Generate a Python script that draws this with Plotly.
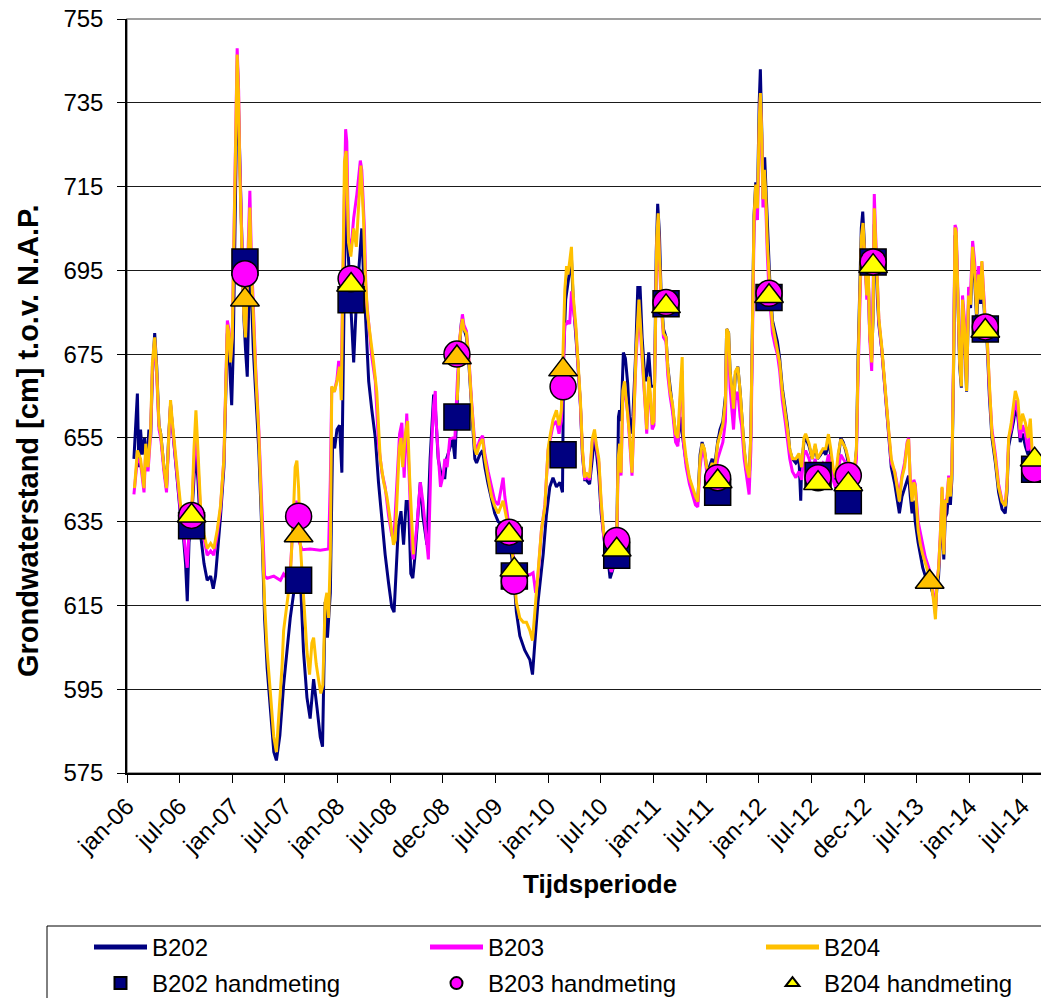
import plotly.graph_objects as go
import pandas as pd

START = pd.Timestamp("2006-01-01")

# readings: (days since 1 Jan 2006, grondwaterstand in cm t.o.v. NAP)
B202 = [
    (24, 650), (36, 665.6), (41, 648), (47, 657), (53, 651), (61, 655), (68, 648), (76, 657), (82, 655), (88, 670),
    (96, 680), (103, 672), (111, 658), (117, 656), (128, 648), (137, 643), (145, 656), (151, 663), (157, 658), (165, 652),
    (174, 645), (186, 636), (195, 632), (203, 625), (209, 616), (215, 630), (226, 638), (238, 652), (246, 645), (255, 632),
    (267, 625), (278, 621), (290, 622), (299, 619), (307, 622), (315, 628), (324, 636), (336, 648), (342, 665), (348, 680),
    (353, 676), (359, 668), (363, 662.8), (368, 675), (373, 700), (379, 725), (383, 744), (388, 730), (394, 712), (400, 696),
    (405, 684), (411, 676), (417, 669.6), (426, 700), (431, 690), (438, 676), (446, 666), (457, 652), (469, 630), (477, 612),
    (486, 600), (498, 590), (509, 580), (518, 578), (530, 584), (543, 596), (555, 604), (566, 612), (578, 618), (589, 624),
    (595, 621), (601, 621.5), (612, 604), (624, 593), (635, 588), (647, 597.4), (659, 590.5), (670, 583.6), (678, 581.3), (687, 615.8),
    (695, 607.3), (705, 618), (713, 655), (720, 652.5), (728, 657), (737, 658), (745, 646.7), (751, 684.5), (758, 715.5), (765, 701.7),
    (774, 689), (780, 680), (786, 673), (795, 687), (803, 694), (814, 705), (820, 694), (829, 682), (838, 668.5), (849, 661.6),
    (861, 655), (872, 644.4), (884, 635.2), (895, 627.2), (907, 620.3), (918, 614.6), (926, 613.4), (933, 624.4), (941, 634), (950, 637.5),
    (959, 629.5), (968, 639.8), (976, 639.8), (984, 622.6), (991, 621.5), (999, 627.2), (1007, 634), (1017, 644.4), (1026, 636.3), (1040, 629.5),
    (1051, 650), (1063, 665), (1067, 665), (1079, 650), (1091, 645.5), (1102, 645.5), (1108, 650), (1119, 652.4), (1129, 654.7), (1137, 650),
    (1143, 661.6), (1152, 676), (1160, 683), (1168, 681), (1177, 679), (1186, 672), (1194, 662), (1200, 655), (1206, 650), (1212, 649),
    (1223, 651), (1233, 652), (1241, 648), (1252, 644), (1264, 640), (1275, 637), (1287, 635), (1304, 634), (1316, 633), (1327, 630),
    (1339, 624), (1350, 613.5), (1362, 607.7), (1379, 604.3), (1397, 602), (1406, 598.5), (1414, 606), (1425, 615.8), (1443, 627.2), (1454, 636.4),
    (1466, 643.3), (1477, 645.5), (1489, 643.3), (1501, 644.4), (1510, 642), (1514, 675), (1521, 688), (1529, 692), (1535, 695), (1541, 698),
    (1547, 688), (1556, 680), (1564, 672), (1572, 663), (1579, 651), (1587, 645),
    (1592, 645), (1604, 644), (1613, 650), (1621, 655), (1627, 652), (1636, 646), (1644, 637), (1652, 632), (1661, 627), (1671, 624),
    (1675, 621.5), (1682, 623), (1690, 625), (1698, 630), (1704, 660), (1708, 661.6), (1713, 659), (1721, 675.4), (1728, 674), (1736, 668),
    (1745, 656), (1754, 660), (1763, 674), (1771, 690.9), (1779, 690.9), (1786, 679), (1794, 670.8), (1800, 668.5), (1809, 675.4), (1817, 667.3),
    (1829, 667.3), (1835, 699.4), (1840, 710.9), (1846, 704), (1852, 689), (1860, 681), (1869, 679), (1875, 672), (1883, 667), (1892, 663),
    (1902, 656), (1910, 654), (1918, 660), (1927, 655), (1939, 649), (1950, 645), (1959, 643), (1971, 640), (1979, 640), (1987, 651),
    (1994, 654), (2002, 652), (2010, 648), (2019, 648), (2029, 650), (2037, 648), (2048, 654), (2056, 657), (2066, 659), (2075, 665),
    (2079, 681), (2086, 680), (2091, 671), (2098, 666), (2103, 662), (2109, 670), (2118, 672), (2126, 666),
    (2131, 661), (2140, 652), (2148, 647), (2157, 644), (2163, 656), (2168, 686), (2174, 708), (2180, 716), (2186, 712), (2192, 735),
    (2196, 743), (2201, 728), (2205, 712), (2211, 722), (2217, 712), (2223, 700), (2229, 692), (2238, 683), (2247, 680), (2255, 678),
    (2263, 674), (2272, 667), (2282, 662), (2290, 658), (2298, 652), (2307, 650), (2319, 649), (2330, 650), (2336, 640), (2339, 648),
    (2347, 654), (2353, 655), (2365, 653), (2376, 650), (2386, 653), (2394, 650), (2405, 651), (2413, 652), (2423, 651), (2432, 654),
    (2440, 651), (2448, 647), (2457, 645), (2466, 650), (2475, 655), (2483, 654), (2492, 652), (2501, 649), (2509, 646), (2521, 646),
    (2529, 652), (2535, 675), (2540, 692), (2546, 705), (2551, 709), (2557, 702), (2565, 690), (2570, 694), (2575, 680), (2582, 674),
    (2587, 684), (2591, 706), (2596, 700), (2602, 688), (2607, 682), (2617, 676), (2625, 669), (2633, 663), (2642, 655), (2650, 648),
    (2662, 644), (2670, 640), (2678, 637), (2687, 641), (2696, 643), (2705, 645), (2710, 646), (2716, 641), (2722, 637), (2728, 640),
    (2733, 635), (2743, 630), (2751, 627), (2759, 624), (2768, 622), (2780, 621), (2789, 619), (2797, 617), (2803, 614), (2808, 619),
    (2814, 622), (2820, 629), (2826, 638), (2832, 626), (2837, 636), (2843, 637), (2849, 642), (2855, 639), (2860, 645), (2866, 672),
    (2871, 703), (2875, 703), (2881, 688), (2887, 672), (2893, 667), (2897, 687), (2904, 680), (2911, 666), (2918, 688), (2925, 686),
    (2932, 699), (2939, 693), (2946, 683), (2953, 692), (2960, 687), (2964, 694), (2970, 688), (2976, 681), (2982, 678), (2990, 665),
    (2999, 655), (3011, 649), (3022, 642), (3034, 638), (3045, 637), (3051, 642), (3057, 653), (3066, 656), (3074, 659), (3080, 662),
    (3089, 660), (3097, 654), (3105, 656), (3115, 653), (3124, 651), (3132, 654), (3138, 649), (3149, 647),
]

B203 = [
    (24, 641.5), (36, 650), (47, 649), (59, 642), (65, 652), (73, 647), (82, 656), (88, 672), (96, 678), (103, 670),
    (111, 657), (117, 655), (128, 647), (137, 642), (145, 655), (151, 663), (157, 658), (165, 652), (174, 645), (186, 637),
    (195, 633), (203, 628), (209, 624), (215, 633), (226, 640), (239, 658), (246, 650), (255, 637), (267, 631), (278, 627),
    (290, 628), (301, 627), (313, 632), (324, 638), (336, 650), (342, 668), (348, 683), (353, 681), (359, 674), (365, 680),
    (371, 703), (376, 727), (382, 748), (387, 738), (391, 721), (400, 698), (405, 686), (411, 680), (417, 696), (426, 714),
    (431, 699), (438, 684), (446, 672), (457, 657), (469, 635), (477, 622), (486, 621.5), (509, 622), (532, 621), (543, 622.5),
    (555, 621.5), (566, 623), (578, 637), (589, 640), (598, 630), (607, 628.3), (635, 628.5), (670, 628.2), (699, 628.5), (705, 645),
    (710, 667), (719, 666), (728, 669), (734, 673.4), (743, 670.8), (751, 707.5), (758, 728.7), (762, 725.8), (768, 702.9), (776, 699.4),
    (786, 707.5), (797, 713.2), (809, 721.2), (814, 719), (823, 705.2), (829, 689), (838, 682.2), (849, 674.3), (861, 668.5), (872, 653.6),
    (884, 646.7), (895, 643.3), (907, 636.4), (918, 631.8), (926, 631.8), (936, 645.5), (945, 655.9), (953, 658.6), (961, 645.5), (970, 660.8),
    (978, 645.5), (988, 628.3), (993, 626), (1005, 634), (1017, 644.4), (1026, 639.8), (1040, 629.5), (1045, 626), (1054, 650), (1063, 662.7),
    (1069, 666.2), (1071, 660), (1079, 651), (1087, 643.3), (1096, 646), (1102, 650), (1110, 648), (1119, 654.7), (1129, 655), (1137, 655),
    (1145, 668), (1154, 679), (1163, 684.5), (1168, 682), (1177, 680.5), (1186, 673.5), (1194, 664.5), (1200, 659), (1206, 653.5), (1212, 652),
    (1223, 654.5), (1233, 655.5), (1241, 651), (1252, 647), (1264, 643), (1275, 640), (1287, 639), (1298, 643), (1304, 645.5), (1310, 641),
    (1318, 637), (1330, 632), (1341, 626), (1350, 622.5), (1374, 622.6), (1397, 622.3), (1408, 622.8), (1417, 618), (1425, 622), (1437, 633),
    (1449, 639), (1460, 652), (1468, 655), (1477, 658), (1489, 659), (1498, 656), (1506, 659), (1512, 672), (1518, 682), (1524, 682.2),
    (1529, 683), (1535, 682.2), (1541, 690), (1547, 686), (1556, 681), (1564, 672), (1572, 663), (1579, 652), (1587, 645),
    (1592, 646), (1604, 645), (1613, 654), (1621, 656), (1627, 653), (1636, 649), (1644, 639), (1652, 632), (1661, 627.5), (1671, 625),
    (1679, 623), (1690, 625), (1698, 630), (1703, 648), (1708, 652), (1713, 646), (1719, 664), (1725, 667), (1731, 663), (1736, 661),
    (1742, 655), (1751, 646), (1760, 665), (1765, 674), (1775, 686), (1783, 678), (1791, 670), (1798, 661), (1802, 656), (1809, 668),
    (1814, 665), (1821, 657), (1827, 658), (1831, 674), (1837, 701), (1842, 707), (1846, 697), (1853, 686), (1860, 679), (1869, 678),
    (1875, 670), (1883, 665), (1892, 661), (1902, 654), (1910, 653), (1918, 664), (1925, 671), (1929, 654), (1939, 648), (1950, 644),
    (1959, 642), (1971, 639), (1979, 638.5), (1987, 648), (1994, 652), (2002, 651), (2010, 647), (2019, 646), (2029, 647), (2037, 645),
    (2048, 650), (2056, 652), (2066, 654), (2075, 659), (2079, 678), (2086, 677), (2091, 667), (2098, 661), (2103, 657), (2109, 664),
    (2118, 666), (2126, 660),
    (2131, 658), (2140, 650), (2148, 646), (2157, 641.5), (2163, 652), (2168, 680), (2174, 704), (2180, 713), (2186, 707), (2192, 728),
    (2196, 736.3), (2201, 726), (2205, 710), (2210, 716), (2215, 710), (2220, 699), (2226, 690), (2232, 685), (2238, 680), (2247, 677),
    (2255, 675), (2263, 671), (2272, 664), (2282, 659), (2290, 655), (2298, 650), (2307, 647), (2319, 645.5), (2330, 647), (2339, 645),
    (2347, 651), (2353, 652), (2365, 650), (2376, 647), (2386, 650), (2394, 647), (2405, 648), (2413, 649), (2423, 648), (2432, 651),
    (2440, 648), (2448, 645), (2457, 643), (2466, 647), (2475, 651), (2483, 650), (2492, 649), (2501, 647), (2509, 645), (2521, 645),
    (2529, 650), (2535, 670), (2540, 686), (2546, 700), (2552, 704), (2559, 697), (2565, 688), (2570, 694), (2575, 679), (2582, 671),
    (2587, 690), (2591, 713.2), (2596, 703), (2602, 690), (2607, 683), (2617, 676), (2625, 669), (2633, 662), (2642, 655), (2650, 649),
    (2662, 647), (2670, 644), (2678, 641), (2687, 646), (2696, 649), (2705, 654), (2710, 655), (2716, 645), (2722, 641), (2728, 645),
    (2733, 644), (2743, 635), (2751, 632), (2759, 629), (2768, 626.5), (2780, 624), (2789, 621.5), (2797, 617), (2803, 613), (2808, 620.5),
    (2814, 624), (2820, 632), (2826, 643), (2832, 628), (2837, 640), (2843, 640.5), (2849, 646), (2855, 641.5), (2860, 647), (2866, 675),
    (2871, 705.8), (2875, 705), (2881, 690), (2887, 674), (2893, 669), (2897, 689), (2904, 683), (2911, 668), (2918, 691), (2925, 690),
    (2932, 702), (2939, 697), (2946, 687), (2953, 696), (2960, 690), (2964, 697), (2970, 690), (2976, 683), (2982, 680), (2990, 667),
    (2999, 657), (3011, 651), (3022, 644), (3034, 640), (3045, 639), (3051, 644), (3057, 655), (3066, 657), (3074, 661), (3080, 664),
    (3089, 661), (3097, 655), (3105, 658), (3115, 656), (3124, 652), (3132, 656), (3138, 650), (3149, 648),
]

B204 = [
    (26, 643), (36, 652), (47, 650), (59, 643), (65, 653.6), (73, 648), (82, 657), (88, 673), (96, 679), (103, 671),
    (111, 658), (117, 656), (128, 648), (137, 643), (145, 656), (151, 664), (157, 659), (165, 653.6), (174, 646.7), (186, 638.7),
    (197, 634), (207, 632), (215, 634), (226, 640), (232, 652), (239, 661.6), (246, 652), (255, 638.7), (267, 632), (278, 628.6),
    (290, 629.8), (301, 628.6), (313, 633), (324, 638.7), (336, 650), (342, 667), (348, 682), (353, 680), (359, 673), (365, 679),
    (371, 701.7), (376, 724.7), (382, 746.5), (387, 736), (391, 719), (400, 696), (405, 684.5), (411, 679), (417, 694), (426, 710),
    (431, 696), (438, 682), (446, 670.8), (457, 656), (469, 633), (477, 615.8), (486, 604), (498, 593), (509, 583.6), (518, 580),
    (528, 590), (538, 601), (543, 609), (555, 615.8), (566, 621.5), (578, 638.7), (583, 648), (589, 649.6), (595, 643), (601, 629.5),
    (612, 615.8), (624, 604), (633, 598.5), (641, 606), (647, 607.3), (656, 601), (664, 597.4), (672, 594), (679, 596), (687, 615.8),
    (693, 618), (699, 612), (705, 627.2), (710, 667.3), (719, 666), (728, 668.5), (737, 672), (743, 664), (749, 696), (754, 721),
    (760, 723.5), (768, 701.7), (776, 698.3), (786, 705), (795, 700.6), (803, 712), (811, 720), (820, 707.5), (826, 694), (834, 684.5),
    (843, 680), (855, 673), (866, 666), (878, 650), (890, 644.4), (901, 641), (913, 635.2), (924, 629.5), (930, 630.6), (936, 641),
    (944, 652.5), (950, 655), (956, 648), (965, 656), (973, 659), (980, 645.5), (988, 632), (993, 627.2), (1070, None),
    (1145, 664), (1154, 678.8), (1163, 683.4), (1168, 681), (1177, 680), (1186, 673), (1194, 663.9), (1200, 658.2), (1206, 652.4), (1212, 651),
    (1223, 653.6), (1233, 654.7), (1241, 650), (1252, 645.5), (1264, 641), (1275, 638.7), (1287, 637), (1304, 640), (1316, 636), (1327, 632),
    (1339, 626), (1350, 615.8), (1362, 612), (1374, 611), (1385, 611), (1397, 609), (1406, 606.6), (1414, 613), (1425, 621.5), (1437, 633),
    (1449, 638.7), (1460, 652.4), (1468, 655.9), (1477, 659.3), (1489, 661.6), (1498, 658), (1506, 661.6), (1512, 678.8), (1518, 690.3), (1524, 696),
    (1529, 694), (1535, 697.2), (1541, 700.6), (1547, 689), (1556, 682), (1564, 673), (1572, 664), (1579, 652.4), (1587, 645.5),
    (1592, 646.7), (1604, 645.5), (1613, 654.7), (1621, 657), (1627, 653.6), (1636, 650), (1644, 639.8), (1652, 633), (1661, 628.3), (1671, 626),
    (1679, 623.8), (1690, 626), (1698, 631.6), (1703, 650), (1708, 653.6), (1713, 646.7), (1719, 666.2), (1725, 668.5), (1731, 664), (1736, 661.6),
    (1742, 656), (1751, 646.7), (1760, 666.2), (1765, 675.4), (1775, 688), (1783, 679), (1791, 670.8), (1798, 661.6), (1802, 657), (1809, 669.6),
    (1814, 666), (1821, 658.2), (1827, 659), (1831, 675.4), (1837, 702.9), (1842, 708.6), (1846, 698.3), (1853, 687), (1860, 680), (1869, 679),
    (1875, 671.9), (1883, 666.2), (1892, 662.8), (1902, 656), (1910, 655), (1918, 666), (1925, 674.3), (1929, 655.9), (1939, 650), (1950, 645.5),
    (1959, 643.3), (1971, 641), (1979, 639.8), (1987, 650), (1994, 653.6), (2002, 652.4), (2010, 648), (2019, 647), (2029, 649), (2037, 647),
    (2048, 653.6), (2056, 656), (2066, 658.2), (2075, 663.9), (2079, 681), (2086, 680), (2091, 670.8), (2098, 666.2), (2103, 662), (2109, 670.8),
    (2118, 671.9), (2126, 666),
    (2131, 661.6), (2140, 652.4), (2148, 648), (2157, 645.5), (2163, 656), (2168, 684.5), (2174, 707.5), (2180, 715.5), (2186, 709.8), (2192, 730.4),
    (2196, 737.3), (2201, 727), (2205, 712), (2210, 719), (2215, 713.2), (2220, 701.7), (2226, 692.7), (2232, 687), (2238, 682.2), (2247, 679),
    (2255, 676.7), (2263, 673), (2272, 666.2), (2282, 661.6), (2290, 657), (2298, 652.4), (2307, 650), (2319, 650), (2330, 651.3), (2339, 648),
    (2347, 655), (2353, 656), (2365, 653.6), (2376, 650), (2386, 653.6), (2394, 650), (2405, 651.3), (2413, 652.4), (2423, 652.4), (2432, 655.9),
    (2440, 652.4), (2448, 648), (2457, 645.5), (2466, 651.3), (2475, 654.7), (2483, 653.6), (2492, 652.4), (2501, 650), (2509, 646.7), (2521, 646.7),
    (2529, 652.4), (2535, 673), (2540, 689), (2546, 702.9), (2552, 706.3), (2559, 698.3), (2565, 689), (2570, 696), (2575, 680), (2582, 673),
    (2587, 684.5), (2591, 709.8), (2596, 701.7), (2602, 689), (2607, 683.4), (2617, 676.7), (2625, 669.6), (2633, 662.8), (2642, 656), (2650, 650),
    (2662, 646.7), (2670, 643.3), (2678, 639.8), (2687, 645.5), (2696, 648), (2705, 653.6), (2710, 654.7), (2716, 644.4), (2722, 639.8), (2728, 644.4),
    (2733, 643.3), (2743, 633), (2751, 629.5), (2759, 627.2), (2768, 625), (2780, 622.6), (2789, 620.3), (2797, 615.8), (2803, 611.7), (2808, 620.3),
    (2814, 623.8), (2820, 631.7), (2826, 643.3), (2832, 627.2), (2837, 639.8), (2843, 639.8), (2849, 645.5), (2855, 641), (2860, 646.7), (2866, 673),
    (2871, 705.2), (2875, 704), (2881, 689), (2887, 673), (2893, 667.3), (2897, 688), (2904, 681.1), (2911, 666.2), (2918, 689), (2925, 686.8),
    (2932, 700.6), (2939, 694.9), (2946, 684.5), (2953, 694), (2960, 688), (2964, 697.2), (2970, 689), (2976, 682.2), (2982, 679), (2990, 666.2),
    (2999, 656), (3011, 650), (3022, 643.3), (3034, 639.8), (3045, 638.7), (3051, 643.3), (3057, 655), (3066, 658.6), (3074, 663), (3080, 666.2),
    (3089, 664), (3097, 657), (3105, 660.8), (3115, 658.6), (3124, 655), (3132, 659.6), (3138, 652.4), (3149, 650),
]

# hand measurements (handmetingen)
HAND_DAYS = [224, 409, 595, 777, 1144, 1325, 1343, 1512, 1698, 1869, 2048, 2226, 2396, 2501, 2587, 2783, 2976, 3147]
B202_HAND = [634, 697, 621, 688, 660, 630.5, 622, 651, 627, 687, 642, 688.5, 646, 640, 697, None, 681, 647.5]
B203_HAND = [636.5, 694.2, 636.3, 693, 675, 632.5, 620.8, 667.2, 630.5, 687.3, 645.5, 689.5, 645.5, 646, 697, None, 681.5, 647.5]
B204_HAND = [636.4, 688, 631.7, 691.5, 674.2, 631.8, 623.5, 671.3, 628.3, 686.4, 644.6, 688.8, 644.2, 643.9, 696, 620.6, 680.5, 649.8]
B204_HAND_ORANGE = [1, 2, 4, 7, 15]

TICK_LABELS = ["jan-06", "jul-06", "jan-07", "jul-07", "jan-08", "jul-08", "dec-08", "jul-09", "jan-10",
               "jul-10", "jan-11", "jul-11", "jan-12", "jul-12", "dec-12", "jul-13", "jan-14", "jul-14"]
TICK_DATES = ["2006-01-01", "2006-07-02", "2007-01-01", "2007-07-02", "2008-01-01", "2008-07-01", "2008-12-31",
              "2009-07-02", "2010-01-01", "2010-07-02", "2011-01-01", "2011-07-02", "2012-01-01", "2012-07-01",
              "2012-12-31", "2013-07-01", "2014-01-01", "2014-07-02"]
Y_TICKS = [575, 595, 615, 635, 655, 675, 695, 715, 735, 755]

NAVY = "#000080"
MAGENTA = "#FF00FF"
ORANGE = "#FFC000"
YELLOW = "#FFFF00"
FONT = "Liberation Sans, Arial, sans-serif"


def to_date(d):
    return START + pd.Timedelta(days=d)


def split(pairs):
    return [to_date(p[0]) for p in pairs], [p[1] for p in pairs]


fig = go.Figure()
for name, pairs, color in [("B202", B202, NAVY), ("B203", B203, MAGENTA), ("B204", B204, ORANGE)]:
    x, y = split(pairs)
    fig.add_trace(go.Scatter(x=x, y=y, mode="lines", name=name, line=dict(color=color, width=3),
                             connectgaps=False, legend="legend"))

hand_x = [to_date(d) for d in HAND_DAYS]
tri_colors = [ORANGE if i in B204_HAND_ORANGE else YELLOW for i in range(len(HAND_DAYS))]
fig.add_trace(go.Scatter(x=hand_x, y=B202_HAND, mode="markers", name="B202 handmeting", legend="legend2",
                         marker=dict(symbol="square", size=26, color=NAVY, line=dict(color="black", width=1.5))))
fig.add_trace(go.Scatter(x=hand_x, y=B203_HAND, mode="markers", name="B203 handmeting", legend="legend2",
                         marker=dict(symbol="circle", size=26, color=MAGENTA, line=dict(color="black", width=1.5))))
fig.add_trace(go.Scatter(x=hand_x, y=B204_HAND, mode="markers", name="B204 handmeting", legend="legend2",
                         marker=dict(symbol="triangle-up", size=25, color=tri_colors, line=dict(color="black", width=1.5))))

# page body adds an 8 px offset; figure sized so that the page fits the window
OFF = 8
W, H = 1041, 990
ML, MR, MT, MB = 119, 6, 11, 225
PW, PH = W - ML - MR, H - MT - MB


def sx(px):
    """screen x (px) -> paper x"""
    return (px - OFF - ML) / PW


def sy(py):
    """screen y (px) -> paper y"""
    return (H - MB - (py - OFF)) / PH


legend_common = dict(orientation="h", xanchor="left", yanchor="top", bgcolor="rgba(0,0,0,0)",
                     borderwidth=0, font=dict(family=FONT, size=24, color="black"),
                     entrywidth=268, entrywidthmode="pixels", itemwidth=53, itemsizing="constant",
                     traceorder="normal")

fig.update_layout(
    width=W, height=H,
    margin=dict(l=ML, r=MR, t=MT, b=MB, autoexpand=False),
    paper_bgcolor="white", plot_bgcolor="white",
    font=dict(family=FONT, size=24, color="black"),
    showlegend=True,
    legend=dict(x=sx(89), y=sy(925), **legend_common),
    legend2=dict(x=sx(89), y=sy(961), **legend_common),
    xaxis=dict(type="date", range=[to_date(0), to_date(3176)], tickmode="array",
               tickvals=TICK_DATES, ticktext=TICK_LABELS, tickangle=-45,
               ticks="outside", ticklen=8, tickcolor="black", tickwidth=1,
               showline=True, linecolor="black", linewidth=1.5, showgrid=False, zeroline=False,
               ticklabeloverflow="allow",
               tickfont=dict(family=FONT, size=24, color="black")),
    yaxis=dict(range=[575, 755], tickmode="array", tickvals=Y_TICKS,
               ticks="outside", ticklen=8, tickcolor="black", tickwidth=1,
               showline=True, linecolor="black", linewidth=1.5,
               showgrid=True, gridcolor="#1a1a1a", gridwidth=1, zeroline=False,
               ticklabelstandoff=9, ticklabeloverflow="allow",
               tickfont=dict(family=FONT, size=24, color="black")),
    shapes=[
        dict(type="rect", xref="paper", yref="paper", x0=0, x1=1, y0=0, y1=1,
             line=dict(color="#808080", width=1.5), layer="below"),
        dict(type="rect", xref="paper", yref="paper",
             x0=sx(47), x1=sx(1080), y0=sy(1020), y1=sy(926),
             line=dict(color="black", width=1), fillcolor="rgba(0,0,0,0)", layer="above"),
    ],
    annotations=[
        dict(text="<b>Grondwaterstand [cm] t.o.v. N.A.P.</b>", textangle=-90, showarrow=False,
             xref="paper", yref="paper", x=sx(28), y=sy(441),
             xanchor="center", yanchor="middle", font=dict(family=FONT, size=29, color="black")),
        dict(text="<b>Tijdsperiode</b>", showarrow=False,
             xref="paper", yref="paper", x=sx(600), y=sy(884),
             xanchor="center", yanchor="middle", font=dict(family=FONT, size=26, color="black")),
    ],
)

fig.write_html("out.html")
